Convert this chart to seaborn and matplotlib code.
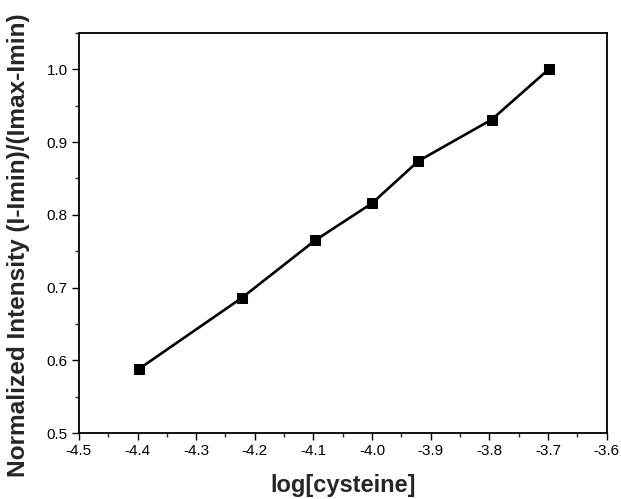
import matplotlib
matplotlib.use("Agg")
import matplotlib.pyplot as plt
import seaborn as sns
import pandas as pd
from matplotlib.ticker import MultipleLocator, FormatStrFormatter

log_cys = [-4.398, -4.222, -4.097, -4.0, -3.921, -3.796, -3.699]
norm_int = [0.588, 0.686, 0.765, 0.816, 0.874, 0.931, 1.0]

sns.set_theme(style="white")
plt.rcParams['font.family'] = ['Liberation Sans', 'DejaVu Sans']

df = pd.DataFrame({"x": log_cys, "y": norm_int})
fig = plt.figure(figsize=(6.21, 4.99), dpi=100)
ax = fig.add_axes([0.127, 0.132, 0.850, 0.802])
sns.lineplot(data=df, x="x", y="y", ax=ax, color="black", linewidth=1.9,
             marker="s", markersize=6.5, markeredgecolor="black", markerfacecolor="black")
ax.set_xlim(-4.5, -3.6)
ax.set_ylim(0.5, 1.05)
ax.xaxis.set_major_locator(MultipleLocator(0.1))
ax.xaxis.set_minor_locator(MultipleLocator(0.05))
ax.yaxis.set_major_locator(MultipleLocator(0.1))
ax.yaxis.set_minor_locator(MultipleLocator(0.05))
ax.xaxis.set_major_formatter(FormatStrFormatter('%.1f'))
ax.yaxis.set_major_formatter(FormatStrFormatter('%.1f'))
ax.tick_params(axis='both', which='major', direction='out', length=5, width=1.0,
               labelsize=11, bottom=True, left=True, top=False, right=False,
               colors='black', pad=3)
ax.tick_params(axis='both', which='minor', direction='out', length=3, width=1.0,
               bottom=True, left=True, top=False, right=False)
for s in ax.spines.values():
    s.set_color('black')
    s.set_linewidth(1.3)
ax.set_xlabel("log[cysteine]", fontsize=17, fontweight='bold')
ax.set_ylabel("Normalized Intensity (I-Imin)/(Imax-Imin)", fontsize=17.6, fontweight='bold')
ax.xaxis.set_label_coords(0.5, -0.102)
ax.yaxis.set_label_coords(-0.092, 0.47)
fig.savefig("out.png", dpi=100)
